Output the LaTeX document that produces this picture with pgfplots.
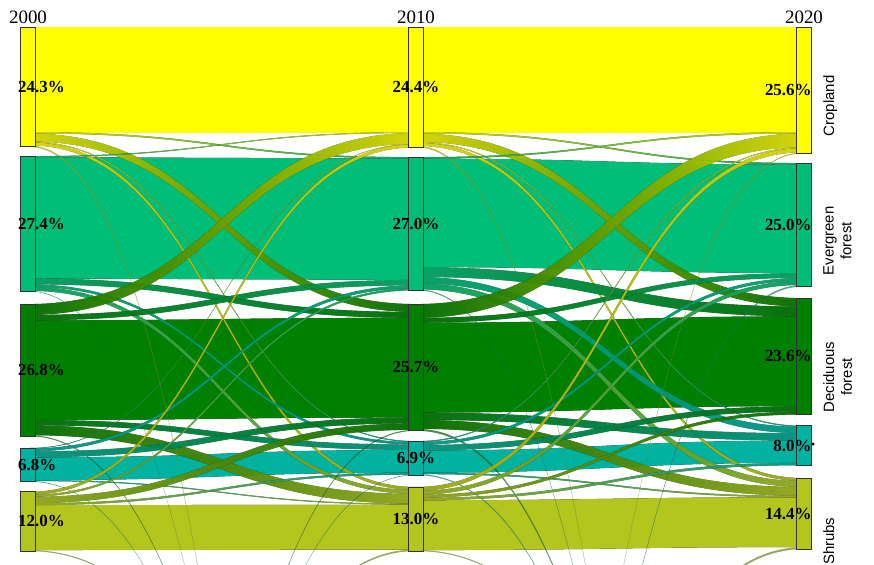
\documentclass[border=0pt]{standalone}
\usepackage{pgfplots}
\pgfplotsset{compat=1.18}
\usepackage{fontspec}
\setmainfont{Liberation Serif}
\newfontfamily\arial{Liberation Sans}

\definecolor{cC}{RGB}{255,255,0}
\definecolor{cE}{RGB}{0,190,120}
\definecolor{cD}{RGB}{0,128,0}
\definecolor{cT}{RGB}{0,178,160}
\definecolor{cS}{RGB}{178,198,30}
\definecolor{cO}{RGB}{190,205,215}
\definecolor{nodeborder}{RGB}{50,50,50}

% band: x0, y0 (top), thickness, x1, y1 (top), colour at source, colour at target, opacity
\newcommand{\sflow}[8]{%
  \pgfmathsetmacro\fxm{(#1+#4)/2}%
  \pgfmathsetmacro\fya{#2+#3}%
  \pgfmathsetmacro\fyb{#5+#3}%
  \edef\sflowtemp{\noexpand\fill[left color=#6, right color=#7, fill opacity=#8]
    (axis cs:#1,#2) .. controls (axis cs:\fxm,#2) and (axis cs:\fxm,#5) .. (axis cs:#4,#5)
    -- (axis cs:#4,\fyb) .. controls (axis cs:\fxm,\fyb) and (axis cs:\fxm,\fya) .. (axis cs:#1,\fya) -- cycle;}%
  \sflowtemp
}
\newcommand{\fop}{0.8}
\newcommand{\oop}{0.45}

\begin{document}
\begin{tikzpicture}
\begin{axis}[
  scale only axis, width=874bp, height=565bp,
  xmin=1999.278, xmax=2021.804,
  ymin=-5.477, ymax=109.13, y dir=reverse,
  hide axis, clip=true]

% ---------- 2000 -> 2010, persisting areas ----------
\sflow{2000}{0}{21.3}{2010}{0}{cC}{cC}{1}
\sflow{2000}{26.4}{24.6}{2010}{26.7}{cE}{cE}{1}
\sflow{2000}{59.5}{20.2}{2010}{59.0}{cD}{cD}{1}
\sflow{2000}{87.3}{4.6}{2010}{85.8}{cT}{cT}{1}
\sflow{2000}{97.0}{9.1}{2010}{96.9}{cS}{cS}{1}
% ---------- 2010 -> 2020, persisting areas ----------
\sflow{2010}{0}{21.3}{2020}{0}{cC}{cC}{1}
\sflow{2010}{26.7}{22.0}{2020}{27.9}{cE}{cE}{1}
\sflow{2010}{60.0}{18.2}{2020}{58.7}{cD}{cD}{1}
\sflow{2010}{85.9}{4.5}{2020}{83.9}{cT}{cT}{1}
\sflow{2010}{96.0}{10.1}{2020}{95.4}{cS}{cS}{1}

% ---------- 2000 -> 2010, changes ----------
\sflow{2000}{21.3}{0.3}{2010}{26.4}{cC}{cE}{\fop}
\sflow{2000}{21.6}{1.6}{2010}{56.2}{cC}{cD}{\fop}
\sflow{2000}{23.2}{0.2}{2010}{84.0}{cC}{cT}{\fop}
\sflow{2000}{23.4}{0.6}{2010}{93.3}{cC}{cS}{\fop}
\sflow{2000}{24.0}{0.3}{2010}{250}{cC}{cO}{\oop}
\sflow{2000}{26.2}{0.2}{2010}{21.3}{cE}{cC}{\fop}
\sflow{2000}{51.0}{1.2}{2010}{57.8}{cE}{cD}{\fop}
\sflow{2000}{52.2}{0.5}{2010}{84.2}{cE}{cT}{\fop}
\sflow{2000}{52.7}{0.8}{2010}{93.9}{cE}{cS}{\fop}
\sflow{2000}{53.5}{0.1}{2010}{230}{cE}{cO}{\oop}
\sflow{2000}{56.2}{2.2}{2010}{21.5}{cD}{cC}{\fop}
\sflow{2000}{58.4}{1.1}{2010}{51.3}{cD}{cE}{\fop}
\sflow{2000}{79.7}{1.1}{2010}{84.7}{cD}{cT}{\fop}
\sflow{2000}{80.8}{2.0}{2010}{94.7}{cD}{cS}{\fop}
\sflow{2000}{82.8}{0.2}{2010}{200}{cD}{cO}{\oop}
\sflow{2000}{85.4}{0.1}{2010}{23.7}{cT}{cC}{\fop}
\sflow{2000}{85.5}{0.6}{2010}{52.4}{cT}{cE}{\fop}
\sflow{2000}{86.1}{1.2}{2010}{79.2}{cT}{cD}{\fop}
\sflow{2000}{91.9}{0.2}{2010}{96.7}{cT}{cS}{\fop}
\sflow{2000}{92.1}{0.1}{2010}{200}{cT}{cO}{\oop}
\sflow{2000}{94.3}{0.6}{2010}{23.8}{cS}{cC}{\fop}
\sflow{2000}{94.9}{0.4}{2010}{53.0}{cS}{cE}{\fop}
\sflow{2000}{95.3}{1.3}{2010}{80.4}{cS}{cD}{\fop}
\sflow{2000}{96.6}{0.4}{2010}{90.4}{cS}{cT}{\fop}
\sflow{2000}{106.1}{0.2}{2010}{170}{cS}{cO}{\oop}
\sflow{2000}{220}{0.2}{2010}{81.7}{cO}{cD}{\oop}
\sflow{2000}{220}{0.1}{2010}{90.8}{cO}{cT}{\oop}
\sflow{2000}{200}{0.3}{2010}{106.0}{cO}{cS}{\oop}

% ---------- 2010 -> 2020, changes ----------
\sflow{2010}{21.3}{0.3}{2020}{27.6}{cC}{cE}{\fop}
\sflow{2010}{21.6}{1.7}{2020}{55.0}{cC}{cD}{\fop}
\sflow{2010}{23.3}{0.2}{2020}{80.9}{cC}{cT}{\fop}
\sflow{2010}{23.5}{0.6}{2020}{91.5}{cC}{cS}{\fop}
\sflow{2010}{24.1}{0.3}{2020}{250}{cC}{cO}{\oop}
\sflow{2010}{26.4}{0.3}{2020}{21.3}{cE}{cC}{\fop}
\sflow{2010}{48.7}{2.0}{2020}{56.7}{cE}{cD}{\fop}
\sflow{2010}{50.7}{1.3}{2020}{81.1}{cE}{cT}{\fop}
\sflow{2010}{52.0}{1.2}{2020}{92.1}{cE}{cS}{\fop}
\sflow{2010}{53.2}{0.2}{2020}{230}{cE}{cO}{\oop}
\sflow{2010}{56.2}{2.8}{2020}{21.6}{cD}{cC}{\fop}
\sflow{2010}{59.0}{1.0}{2020}{49.9}{cD}{cE}{\fop}
\sflow{2010}{78.2}{1.5}{2020}{82.4}{cD}{cT}{\fop}
\sflow{2010}{79.7}{1.8}{2020}{93.3}{cD}{cS}{\fop}
\sflow{2010}{81.5}{0.4}{2020}{200}{cD}{cO}{\oop}
\sflow{2010}{84.0}{0.2}{2020}{24.4}{cT}{cC}{\fop}
\sflow{2010}{84.2}{0.6}{2020}{50.9}{cT}{cE}{\fop}
\sflow{2010}{84.8}{1.1}{2020}{76.9}{cT}{cD}{\fop}
\sflow{2010}{90.4}{0.3}{2020}{95.1}{cT}{cS}{\fop}
\sflow{2010}{90.7}{0.2}{2020}{200}{cT}{cO}{\oop}
\sflow{2010}{93.3}{0.8}{2020}{24.6}{cS}{cC}{\fop}
\sflow{2010}{94.1}{0.8}{2020}{51.5}{cS}{cE}{\fop}
\sflow{2010}{94.9}{0.6}{2020}{78.0}{cS}{cD}{\fop}
\sflow{2010}{95.5}{0.5}{2020}{88.4}{cS}{cT}{\fop}
\sflow{2010}{106.1}{0.2}{2020}{170}{cS}{cO}{\oop}
\sflow{2010}{220}{0.2}{2020}{25.4}{cO}{cC}{\oop}
\sflow{2010}{220}{0.3}{2020}{52.3}{cO}{cE}{\oop}
\sflow{2010}{200}{0.4}{2020}{105.5}{cO}{cS}{\oop}

% ---------- nodes (class shares, %) ----------
\pgfplotsset{nodebox/.style={draw=nodeborder, line width=0.8pt, fill=#1}}
% 2000
\addplot[nodebox=cC] coordinates {(1999.8,0) (2000.2,0) (2000.2,24.3) (1999.8,24.3)} -- cycle;
\addplot[nodebox=cE] coordinates {(1999.8,26.2) (2000.2,26.2) (2000.2,53.6) (1999.8,53.6)} -- cycle;
\addplot[nodebox=cD] coordinates {(1999.8,56.2) (2000.2,56.2) (2000.2,83.0) (1999.8,83.0)} -- cycle;
\addplot[nodebox=cT] coordinates {(1999.8,85.4) (2000.2,85.4) (2000.2,92.2) (1999.8,92.2)} -- cycle;
\addplot[nodebox=cS] coordinates {(1999.8,94.3) (2000.2,94.3) (2000.2,106.3) (1999.8,106.3)} -- cycle;
% 2010
\addplot[nodebox=cC] coordinates {(2009.8,0) (2010.2,0) (2010.2,24.4) (2009.8,24.4)} -- cycle;
\addplot[nodebox=cE] coordinates {(2009.8,26.4) (2010.2,26.4) (2010.2,53.4) (2009.8,53.4)} -- cycle;
\addplot[nodebox=cD] coordinates {(2009.8,56.2) (2010.2,56.2) (2010.2,81.9) (2009.8,81.9)} -- cycle;
\addplot[nodebox=cT] coordinates {(2009.8,84.0) (2010.2,84.0) (2010.2,90.9) (2009.8,90.9)} -- cycle;
\addplot[nodebox=cS] coordinates {(2009.8,93.3) (2010.2,93.3) (2010.2,106.3) (2009.8,106.3)} -- cycle;
% 2020
\addplot[nodebox=cC] coordinates {(2019.8,0) (2020.2,0) (2020.2,25.6) (2019.8,25.6)} -- cycle;
\addplot[nodebox=cE] coordinates {(2019.8,27.6) (2020.2,27.6) (2020.2,52.6) (2019.8,52.6)} -- cycle;
\addplot[nodebox=cD] coordinates {(2019.8,55.0) (2020.2,55.0) (2020.2,78.6) (2019.8,78.6)} -- cycle;
\addplot[nodebox=cT] coordinates {(2019.8,80.9) (2020.2,80.9) (2020.2,88.9) (2019.8,88.9)} -- cycle;
\addplot[nodebox=cS] coordinates {(2019.8,91.5) (2020.2,91.5) (2020.2,105.9) (2019.8,105.9)} -- cycle;

% ---------- labels ----------
\tikzset{pct/.style={inner sep=0pt, font=\fontsize{17}{17}\selectfont\bfseries}}
\node[pct, anchor=west] at (axis cs:1999.74,12.15) {24.3\%};
\node[pct, anchor=west] at (axis cs:1999.74,39.9) {27.4\%};
\node[pct, anchor=west] at (axis cs:1999.74,69.6) {26.8\%};
\node[pct, anchor=west] at (axis cs:1999.74,88.8) {6.8\%};
\node[pct, anchor=west] at (axis cs:1999.74,100.3) {12.0\%};
\node[pct] at (axis cs:2010,12.2) {24.4\%};
\node[pct] at (axis cs:2010,39.9) {27.0\%};
\node[pct] at (axis cs:2010,69.05) {25.7\%};
\node[pct] at (axis cs:2010,87.45) {6.9\%};
\node[pct] at (axis cs:2010,99.8) {13.0\%};
\node[pct, anchor=east] at (axis cs:2020.2,12.8) {25.6\%};
\node[pct, anchor=east] at (axis cs:2020.2,40.1) {25.0\%};
\node[pct, anchor=east] at (axis cs:2020.2,66.8) {23.6\%};
\node[pct, anchor=east] at (axis cs:2020.2,84.9) {8.0\%};
\node[inner sep=0pt, anchor=west, font=\fontsize{12}{12}\selectfont] at (axis cs:2020.18,85.0) {•};
\node[pct, anchor=east] at (axis cs:2020.2,98.7) {14.4\%};

\tikzset{yr/.style={inner sep=0pt, font=\fontsize{19}{19}\selectfont}}
\node[yr] at (axis cs:2000,-1.93) {2000};
\node[yr] at (axis cs:2010,-1.93) {2010};
\node[yr] at (axis cs:2020,-1.93) {2020};

\tikzset{cls/.style={rotate=90, anchor=north, inner sep=0pt, align=center,
  font=\arial\fontsize{15}{18}\selectfont}}
\node[cls] at (axis cs:2020.49,16.0) {Cropland};
\node[cls] at (axis cs:2020.49,43.4) {Evergreen\\forest};
\node[cls] at (axis cs:2020.49,71.0) {Deciduous\\forest};
\node[cls] at (axis cs:2020.49,104.3) {Shrubs};
\end{axis}
\pgfresetboundingbox
\path[use as bounding box] (current axis.south west) rectangle (current axis.north east);
\end{tikzpicture}
\end{document}
